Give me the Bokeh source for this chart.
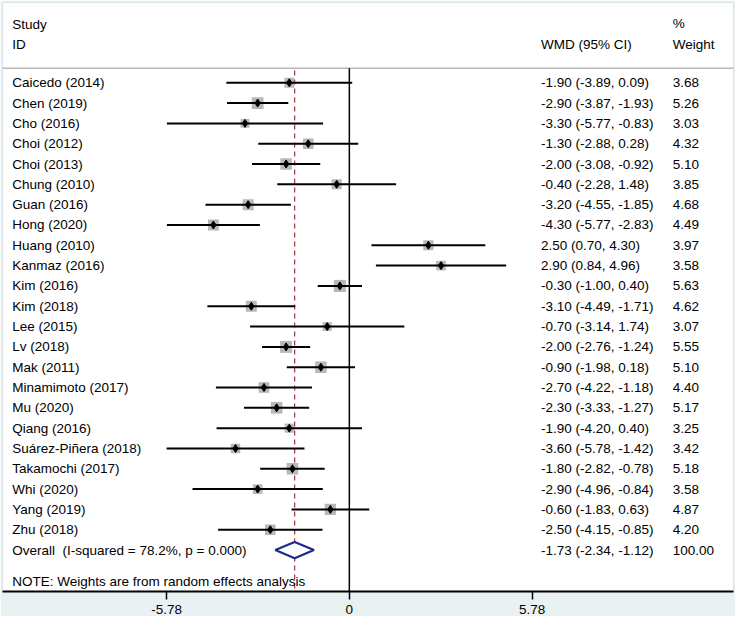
from bokeh.plotting import figure
from bokeh.models import ColumnDataSource, Range1d, FixedTicker
from bokeh.core.properties import value
from bokeh.embed import file_html
from bokeh.resources import INLINE
import math

studies = ["Caicedo (2014)", "Chen (2019)", "Cho (2016)", "Choi (2012)", "Choi (2013)",
           "Chung (2010)", "Guan (2016)", "Hong (2020)", "Huang (2010)", "Kanmaz (2016)",
           "Kim (2016)", "Kim (2018)", "Lee (2015)", "Lv (2018)", "Mak (2011)",
           "Minamimoto (2017)", "Mu (2020)", "Qiang (2016)", "Suárez-Piñera (2018)",
           "Takamochi (2017)", "Whi (2020)", "Yang (2019)", "Zhu (2018)"]
wmd = [-1.90, -2.90, -3.30, -1.30, -2.00, -0.40, -3.20, -4.30, 2.50, 2.90,
       -0.30, -3.10, -0.70, -2.00, -0.90, -2.70, -2.30, -1.90, -3.60, -1.80,
       -2.90, -0.60, -2.50]
lower = [-3.89, -3.87, -5.77, -2.88, -3.08, -2.28, -4.55, -5.77, 0.70, 0.84,
         -1.00, -4.49, -3.14, -2.76, -1.98, -4.22, -3.33, -4.20, -5.78, -2.82,
         -4.96, -1.83, -4.15]
upper = [0.09, -1.93, -0.83, 0.28, -0.92, 1.48, -1.85, -2.83, 4.30, 4.96,
         0.40, -1.71, 1.74, -1.24, 0.18, -1.18, -1.27, 0.40, -1.42, -0.78,
         -0.84, 0.63, -0.85]
weights = [3.68, 5.26, 3.03, 4.32, 5.10, 3.85, 4.68, 4.49, 3.97, 3.58,
           5.63, 4.62, 3.07, 5.55, 5.10, 4.40, 5.17, 3.25, 3.42, 5.18,
           3.58, 4.87, 4.20]
overall_label = "Overall\u00a0 (I-squared = 78.2%, p = 0.000)"
overall_wmd = -1.73
overall_lower = -2.34
overall_upper = -1.12
overall_weight = 100.00
tick_values = [-5.78, 0, 5.78]
tick_labels = ["-5.78", "0", "5.78"]
note = "NOTE: Weights are from random effects analysis"

n = len(studies)
rows = list(range(n))
FONT = "Liberation Sans"
FS = "13.5px"

p = figure(width=735, height=616, output_backend="svg", toolbar_location=None,
           x_range=Range1d(-10.97, 12.15), y_range=Range1d(25.04, -3.95),
           min_border_left=2, min_border_right=2, min_border_top=2, min_border_bottom=0)
p.background_fill_color = "white"
p.border_fill_color = "#e9f1f3"
p.outline_line_color = "#d8e3e8"
p.grid.visible = False
p.yaxis.visible = False

# header separator
p.line(x=[-10.97, 12.15], y=[-0.72, -0.72], line_color="#b8b8b8", line_width=1.5)

# zero line and overall effect line
p.segment(x0=[0], y0=[-0.72], x1=[0], y1=[25.04], line_color="black", line_width=1.5)
p.segment(x0=[overall_wmd], y0=[-0.6], x1=[overall_wmd], y1=[25.04],
          line_color="#a0323c", line_width=1.2, line_dash="5 4")

src = ColumnDataSource(dict(
    y=rows, est=wmd, lo=lower, hi=upper, w=weights, name=studies,
    size=[5.1 * math.sqrt(w) for w in weights],
    ci=["%.2f (%.2f, %.2f)" % (e, l, h) for e, l, h in zip(wmd, lower, upper)],
    wt=["%.2f" % w for w in weights],
))

p.scatter(x="est", y="y", size="size", marker="square", source=src,
          fill_color="#b8b8b8", line_color=None)
p.segment(x0="lo", y0="y", x1="hi", y1="y", source=src, line_color="black", line_width=2)
p.scatter(x="est", y="y", size=8, marker="diamond", source=src,
          fill_color="black", line_color="black")

# overall diamond
oy = n
p.patch(x=[overall_lower, overall_wmd, overall_upper, overall_wmd],
        y=[oy, oy - 0.4, oy, oy + 0.4],
        fill_color="white", line_color="#1c2a8a", line_width=2.2)

txt = dict(text_font=value(FONT), text_font_size=FS, text_color="black",
           text_baseline="middle", text_align="left")
p.text(x=-10.66, y="y", text="name", source=src, **txt)
p.text(x=6.06, y="y", text="ci", source=src, **txt)
p.text(x=10.23, y="y", text="wt", source=src, **txt)

p.text(x=[-10.66], y=[oy], text=[overall_label], **txt)
p.text(x=[6.06], y=[oy],
       text=["%.2f (%.2f, %.2f)" % (overall_wmd, overall_lower, overall_upper)], **txt)
p.text(x=[10.23], y=[oy], text=["%.2f" % overall_weight], **txt)

p.text(x=[-10.66, -10.66, 6.06, 10.23, 10.23], y=[-2.89, -1.88, -1.88, -2.94, -1.88],
       text=["Study", "ID", "WMD (95% CI)", "%", "Weight"], **txt)
p.text(x=[-10.66], y=[24.55], text=[note], **txt)

# axis
ax = p.xaxis[0]
ax.ticker = FixedTicker(ticks=tick_values)
ax.major_label_overrides = {v: l for v, l in zip(tick_values, tick_labels)}
ax.axis_line_width = 2
ax.axis_line_color = "black"
ax.major_tick_in = 0
ax.major_tick_out = 8
ax.major_tick_line_width = 1.5
ax.minor_tick_line_color = None
ax.major_label_text_font = FONT
ax.major_label_text_font_size = FS
ax.major_label_text_color = "black"
ax.major_label_standoff = 5
ax.axis_label = None

open("out.html", "w").write(file_html(p, INLINE))
